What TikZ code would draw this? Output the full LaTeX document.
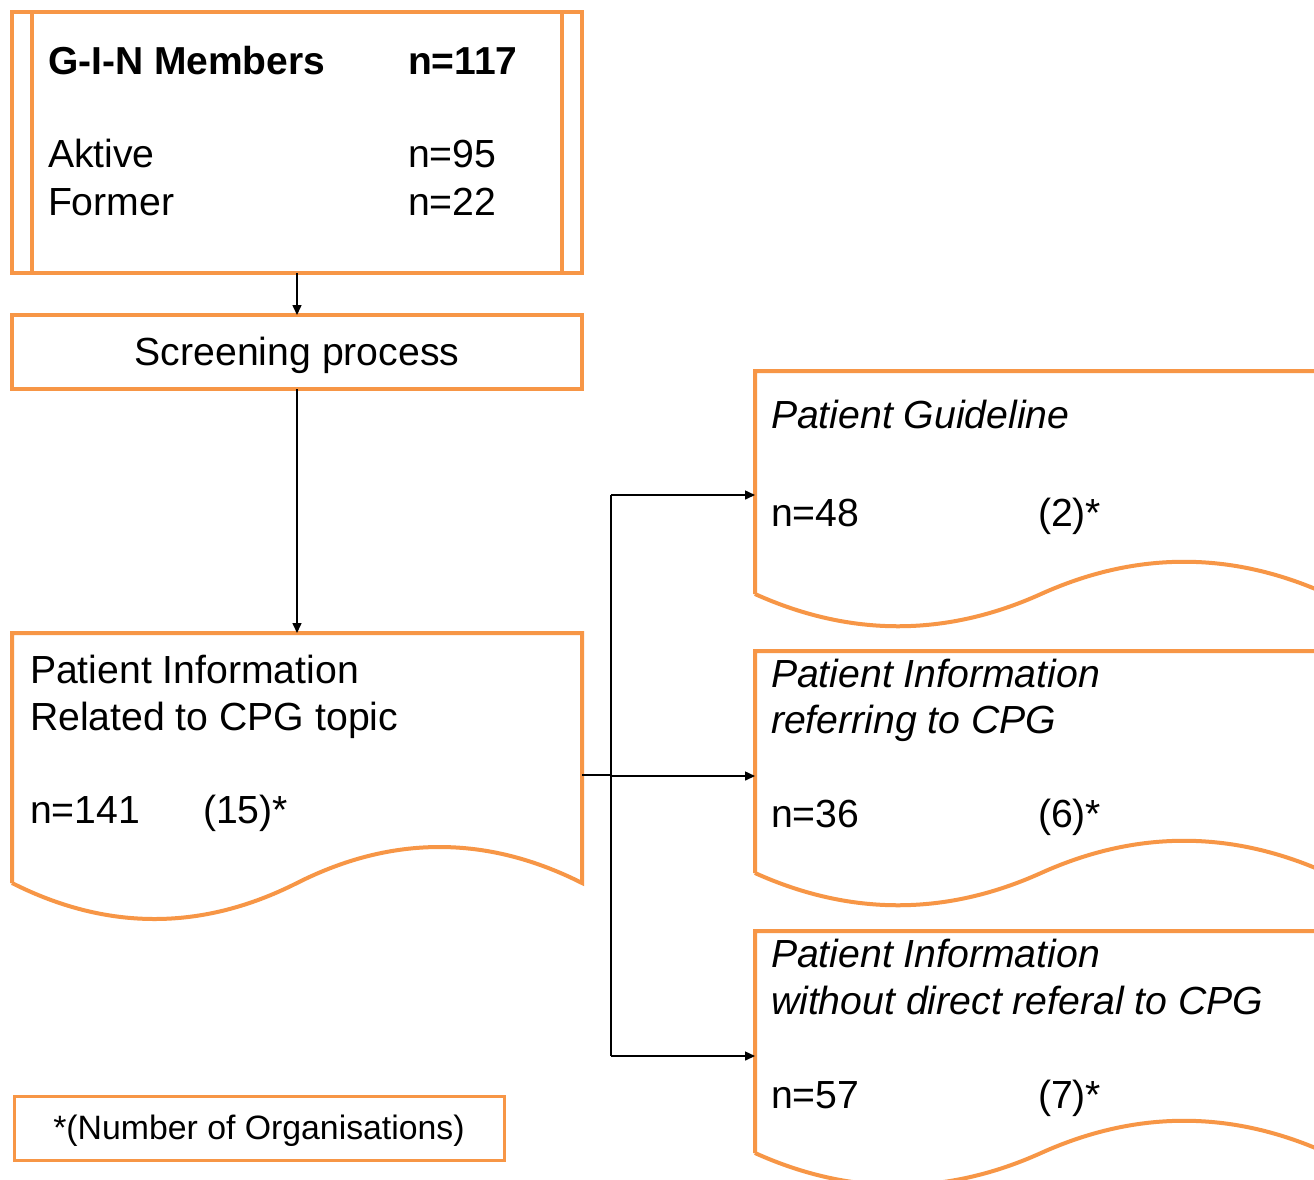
\documentclass[tikz,border=0pt]{standalone}
\usepackage{fontspec}
\setmainfont{Liberation Sans}
\usetikzlibrary{arrows.meta,calc}
\definecolor{gorange}{HTML}{F79646}
\tikzset{
  ol/.style={draw=gorange, line width=4pt, line join=miter},
  box/.style={rectangle, inner sep=0pt, outer sep=0pt},
  txt/.style={anchor=base west, inner sep=0pt, outer sep=0pt, font=\fontsize{39.2}{47}\selectfont},
  itxt/.style={txt, font=\fontsize{39.2}{47}\selectfont\itshape},
  btxt/.style={txt, font=\fontsize{39}{47}\selectfont\bfseries},
  conn/.style={draw=black, line width=1.5pt},
  arr/.style={conn, -{Triangle[length=10pt,width=9pt]}},
}
\newcommand\docwave[3]{%
  \draw[ol] (#1.south west) -- (#1.north west) -- (#1.north east) -- (#1.south east)
    .. controls ($(#1.south east)+(-#2/3,-#3)$) and ($(#1.south east)+(-2*#2/3,-#3)$) .. ($(#1.south east)+(-#2,0)$)
    .. controls ($(#1.south east)+(-4*#2/3,#3)$) and ($(#1.south east)+(-5*#2/3,#3)$) .. (#1.south west);
}
\begin{document}
\begin{tikzpicture}[x=1pt,y=-1pt]
\useasboundingbox (0,0) rectangle (1314,1179);
\clip (0,0) rectangle (1314,1179);
\fill[white] (0,0) rectangle (1314,1179);

% G-I-N members box (predefined process)
\node[box, minimum width=570pt, minimum height=261pt] (gin) at (297,142.5) {};
\draw[ol] (gin.north west) rectangle (gin.south east);
\draw[ol] ($(gin.north west)+(20,0)$) -- ($(gin.south west)+(20,0)$);
\draw[ol] ($(gin.north east)+(-20,0)$) -- ($(gin.south east)+(-20,0)$);
\node[btxt] (ginA) at (48,74) {G-I-N Members};
\node[btxt] (ginB) at (408,74) {n=117};
\node[txt] (ginC) at (48,167) {Aktive};
\node[txt] (ginD) at (408,167) {n=95};
\node[txt] (ginE) at (48,215) {Former};
\node[txt] (ginF) at (408,215) {n=22};

% screening
\node[box, ol, minimum width=570pt, minimum height=74pt] (scr) at (297,352) {};
\node[txt, anchor=base] (scrT) at (297,365) {Screening process};

% left document
\node[box, minimum width=570pt, minimum height=250pt] (pi) at (297,758) {};
\docwave{pi}{285}{48}
\node[txt] (piA) at (30,683) {Patient Information};
\node[txt] (piB) at (30,730) {Related to CPG topic};
\node[txt] (piC) at (30,823) {n=141};
\node[txt] (piD) at (203,823) {(15)*};

% right documents
\node[box, minimum width=572pt, minimum height=223pt] (d1) at (1041,482.5) {};
\docwave{d1}{286}{43}
\node[itxt] (d1A) at (771,428) {Patient Guideline};
\node[txt] (d1B) at (771,526) {n=48};
\node[txt] (d1C) at (1038,526) {(2)*};

\node[box, minimum width=572pt, minimum height=222pt] (d2) at (1041,762) {};
\docwave{d2}{286}{43}
\node[itxt] (d2A) at (771,687) {Patient Information};
\node[itxt] (d2B) at (771,733) {referring to CPG};
\node[txt] (d2C) at (771,827) {n=36};
\node[txt] (d2D) at (1038,827) {(6)*};

\node[box, minimum width=572pt, minimum height=222pt] (d3) at (1041,1042) {};
\docwave{d3}{286}{43}
\node[itxt] (d3A) at (771,967) {Patient Information};
\node[itxt] (d3B) at (771,1014) {without direct referal to CPG};
\node[txt] (d3C) at (771,1108) {n=57};
\node[txt] (d3D) at (1038,1108) {(7)*};

% footnote
\node[box, draw=gorange, line width=3pt, minimum width=490pt, minimum height=64pt] (fn) at (259,1128) {};
\node[txt, anchor=base, font=\fontsize{33.8}{40}\selectfont] (fnT) at (259,1139) {*(Number of Organisations)};

% connectors
\draw[arr] (gin.south) -- (scr.north);
\draw[arr] (scr.south) -- (pi.north);
\coordinate (br) at (611,775);
\coordinate (t1) at ($(d1.west)+(0,12.5)$);
\coordinate (t2) at ($(d2.west)+(0,14)$);
\coordinate (t3) at ($(d3.west)+(0,14)$);
\draw[conn] (pi.east |- br) -- (br);
\draw[conn] (br |- t1) -- (br |- t3);
\draw[arr] (br |- t1) -- (t1);
\draw[arr] (br |- t2) -- (t2);
\draw[arr] (br |- t3) -- (t3);
\end{tikzpicture}
\end{document}
